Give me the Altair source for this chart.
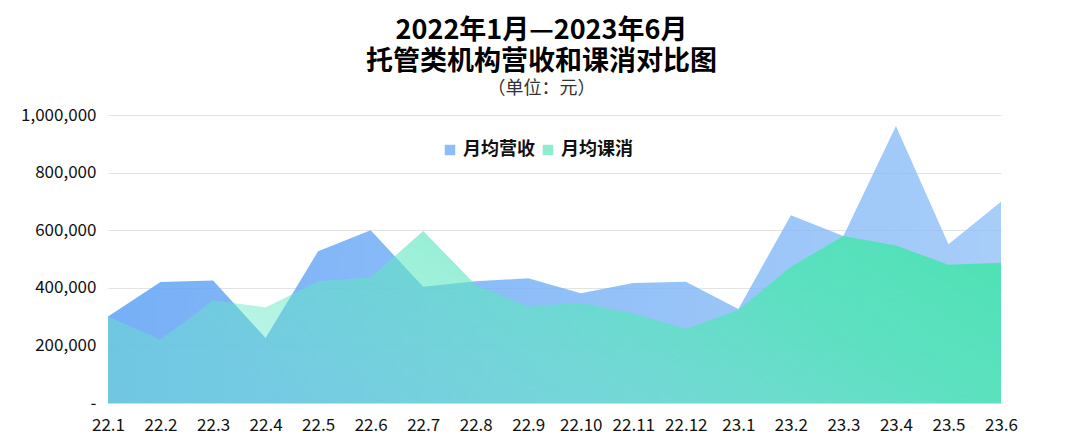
import altair as alt
import pandas as pd

months = ["22.1", "22.2", "22.3", "22.4", "22.5", "22.6", "22.7", "22.8", "22.9",
          "22.10", "22.11", "22.12", "23.1", "23.2", "23.3", "23.4", "23.5", "23.6"]
revenue = [300000, 420000, 425000, 226000, 527000, 600000, 404000, 423000, 433000,
           381000, 417000, 421000, 326000, 652000, 580000, 962000, 551000, 699000]
course = [300000, 220000, 356000, 332000, 423000, 436000, 597000, 410000, 334000,
          348000, 311000, 258000, 323000, 473000, 580000, 547000, 480000, 487000]
series_names = ["月均营收", "月均课消"]

df = pd.DataFrame({"month": months, "rev": revenue, "course": course})
long_df = pd.DataFrame({
    "month": months * 2,
    "value": revenue + course,
    "series": [series_names[0]] * len(months) + [series_names[1]] * len(months),
})

FONT = "Noto Sans CJK SC"

x_enc = alt.X("month:N", sort=months, scale=alt.Scale(type="point", padding=0),
              axis=alt.Axis(title=None, labelAngle=0, labelFontSize=17, labelColor="#111",
                            labelPadding=14, ticks=False, domainColor="#D9D9D9",
                            grid=False, labelFont=FONT))
y_scale = alt.Scale(domain=[0, 1000000], nice=False)
y_axis = alt.Axis(title=None, values=[0, 200000, 400000, 600000, 800000, 1000000],
                  labelExpr="datum.value == 0 ? '-' : format(datum.value, ',')",
                  labelFontSize=17, labelColor="#111", labelPadding=12, ticks=False,
                  domain=False, gridColor="#E3E3E3", labelFont=FONT)

blue_grad = alt.Gradient(
    gradient="linear",
    stops=[alt.GradientStop(color="rgba(96,162,245,0.86)", offset=0),
           alt.GradientStop(color="rgba(140,190,247,0.76)", offset=1)],
    x1=0, x2=1, y1=0, y2=0,
)
green_grad = alt.Gradient(
    gradient="linear",
    stops=[alt.GradientStop(color="rgba(100,232,198,0.42)", offset=0),
           alt.GradientStop(color="rgba(94,230,192,0.6)", offset=0.35),
           alt.GradientStop(color="rgba(80,228,182,0.85)", offset=0.7),
           alt.GradientStop(color="rgba(74,226,176,0.97)", offset=1)],
    x1=0, x2=1, y1=0.3, y2=0,
)

rev_area = alt.Chart(df).mark_area(color=blue_grad, line=False).encode(
    x=x_enc, y=alt.Y("rev:Q", scale=y_scale, axis=y_axis)
)
course_area = alt.Chart(df).mark_area(color=green_grad, line=False).encode(
    x=x_enc, y=alt.Y("course:Q", scale=y_scale, axis=y_axis)
)
legend_layer = alt.Chart(long_df).mark_square(opacity=0).encode(
    x=x_enc,
    y=alt.Y("value:Q", scale=y_scale, axis=y_axis),
    color=alt.Color("series:N", sort=series_names,
                    scale=alt.Scale(domain=series_names, range=["#8DBDF7", "#8EEDCB"]),
                    legend=alt.Legend(title=None, orient="none", legendX=333, legendY=26,
                                      direction="horizontal", symbolType="square",
                                      symbolSize=110, symbolOpacity=1, symbolStrokeWidth=0,
                                      labelFontSize=18, labelFontWeight="bold",
                                      labelColor="#111", labelFont=FONT, columnPadding=4,
                                      labelOffset=4)),
)

chart = alt.layer(rev_area, course_area, legend_layer).properties(
    width=893, height=288,
    padding={"left": 12, "top": 9, "right": 5, "bottom": 5},
    title=alt.TitleParams(
        text=["2022年1月—2023年6月", "托管类机构营收和课消对比图"],
        subtitle="（单位：元）",
        anchor="middle", frame="group", dx=-13,
        font=FONT, fontSize=27, fontWeight="bold", color="#000", lineHeight=31,
        subtitleFont=FONT, subtitleFontSize=18, subtitleColor="#333",
        subtitlePadding=4, offset=7,
    ),
).configure(font=FONT, view=alt.ViewConfig(strokeWidth=0))

chart.save("out.html", embed_options={"renderer": "svg", "actions": False})
